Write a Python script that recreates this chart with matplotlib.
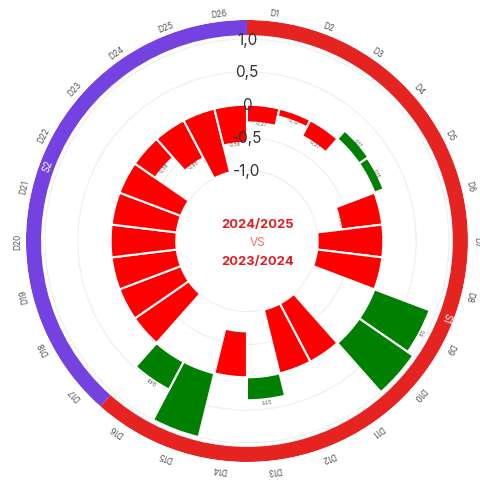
import numpy as np
import matplotlib.pyplot as plt

# --- Data ---
categories = [f"D{i}" for i in range(1, 27)]
values = [-0.27, -0.12, -0.27, 0.17, 0.15, -0.63, -1.0, -1.0, 0.9, 1.0,
          -1.0, -1.0, 0.35, -0.7, 1.0, 0.48, -1.0, -1.0, -1.0, -1.0,
          -1.0, -1.0, -0.38, -0.65, -1.0, -0.58]
groups = ["S1", "S2"]
group_sizes = [16, 10]
group_colors = ["#e52421", "#7442e0"]
r_ticks = [1.0, 0.5, 0.0, -0.5, -1.0]
r_tick_labels = ["1,0", "0,5", "0", "-0,5", "-1,0"]
center_lines = ["2024/2025", "VS", "2023/2024"]

plt.rcParams['font.family'] = ['Inter', 'DejaVu Sans']

n = len(categories)
step = 2 * np.pi / n
theta = np.arange(n) * step + step / 2

fig = plt.figure(figsize=(4.8, 4.81), dpi=100)
ax = fig.add_axes([0.054, 0.0374, 0.921, 0.919], projection='polar')
ax.set_theta_zero_location('N')
ax.set_theta_direction(-1)
ax.set_ylim(-1.1, 1.29)
ax.set_rorigin(-2.076)
ax.axis('off')  # no spines / patch outline

# light circular gridlines
circle_t = np.linspace(0, 2 * np.pi, 400)
for rt in r_ticks:
    ax.plot(circle_t, np.full_like(circle_t, rt), color='#eeeeee', lw=0.8, zorder=0)

# bars
colors = ['#008000' if v > 0 else '#ff0000' for v in values]
ax.bar(theta, values, width=step, bottom=0, color=colors,
       edgecolor='white', linewidth=1.5, zorder=2)

# value labels (only for values not at the cap)
for t, v in zip(theta, values):
    if abs(v) < 0.99:
        txt = f"{v:.2f}".rstrip('0').rstrip('.').replace('.', ',')
        ax.text(t, v, txt, fontsize=3.5, color='#555555', ha='center', va='center',
                rotation=-np.degrees(t), rotation_mode='anchor', zorder=4)

# outer group ring
start = 0
for g, size, c in zip(groups, group_sizes, group_colors):
    span = size * step
    mid = start * step + span / 2
    ax.bar(mid, 0.23, width=span, bottom=1.06, color=c, edgecolor='none', zorder=2)
    ax.text(mid, 1.175, g, color='white', fontsize=7, ha='center', va='center',
            rotation=-np.degrees(mid), rotation_mode='anchor', zorder=5)
    start += size

# category labels
for t, lab in zip(theta, categories):
    ax.text(t, 1.42, lab, fontsize=6, color='#555555', ha='center', va='center',
            rotation=-np.degrees(t), rotation_mode='anchor')

# radial tick labels at top
for rt, lab in zip(r_ticks, r_tick_labels):
    ax.text(0, rt, lab, fontsize=11, color='#333333', ha='center', va='center', zorder=6)

# centre text
fig.text(0.536, 0.532, center_lines[0], color='#e31b23', fontsize=9.3,
         fontweight='bold', ha='center', va='center')
fig.text(0.536, 0.495, center_lines[1], color='#f07070', fontsize=8.5,
         ha='center', va='center')
fig.text(0.536, 0.456, center_lines[2], color='#e31b23', fontsize=9.3,
         fontweight='bold', ha='center', va='center')

fig.savefig('out.png', dpi=100)
